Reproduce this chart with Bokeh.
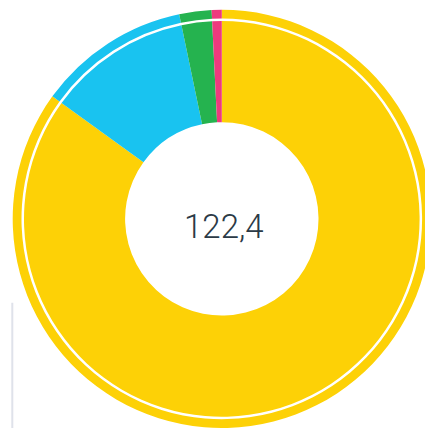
import math
from bokeh.plotting import figure
from bokeh.models import Range1d
from bokeh.core.properties import value
from bokeh.embed import file_html
from bokeh.resources import INLINE

categories = ["Yellow", "Blue", "Green", "Pink"]
values = [104.0, 14.4, 3.05, 0.95]
colors = ["#FDD106", "#19C3F0", "#25B34F", "#EE3A7E"]
total_label = "122,4"

W, H = 425, 428
p = figure(width=W, height=H, output_backend="svg", toolbar_location=None,
           x_range=Range1d(0, W), y_range=Range1d(0, H), min_border=0)
p.axis.visible = False
p.grid.visible = False
p.outline_line_color = None
p.background_fill_color = "white"
p.border_fill_color = "white"

cx, cy = 221.3, H - 218.4
total = sum(values)
starts, ends = [], []
a = math.pi / 2
for v in values:
    starts.append(a)
    a -= v / total * 2 * math.pi
    ends.append(a)

src = dict(x=[cx] * len(values), y=[cy] * len(values), start=starts, end=ends, color=colors, name=categories)
p.annular_wedge(x="x", y="y", inner_radius=96.7, outer_radius=197.8, start_angle="start", end_angle="end",
                direction="clock", fill_color="color", line_color=None, source=src)
p.annular_wedge(x="x", y="y", inner_radius=200.3, outer_radius=209.1, start_angle="start", end_angle="end",
                direction="clock", fill_color="color", line_color=None, source=src)

p.text(x=[cx + 2], y=[H - 225.8], text=[total_label], text_align="center", text_baseline="middle",
       text_font=value("Roboto Light"), text_font_size="33px", text_color="#2B3A46")

p.segment(x0=[11.8], y0=[H - 302.3], x1=[11.8], y1=[0], line_color="#DFE2EA", line_width=2)

open("out.html", "w").write(file_html(p, INLINE))
